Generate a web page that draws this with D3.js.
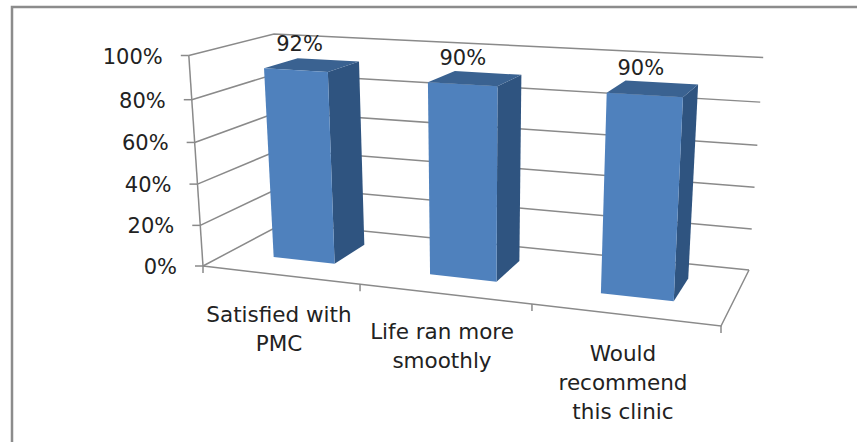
<!DOCTYPE html>
<meta charset="utf-8">
<style>
  html, body { margin: 0; padding: 0; background: #fff; }
  text { font-family: "DejaVu Sans", sans-serif; font-size: 21px; fill: #222; }
  .cat text { font-size: 21.5px; }
</style>
<script src="https://d3js.org/d3.v7.min.js"></script>
<div id="chart"></div>
<script>
  const categories = [["Satisfied with", "PMC"], ["Life ran more", "smoothly"], ["Would", "recommend", "this clinic"]];
  const values = [92, 90, 90];
  const valueLabels = ["92%", "90%", "90%"];
  const yTicks = [0, 20, 40, 60, 80, 100];

  const width = 857, height = 442;

  const svg = d3.select("#chart").append("svg")
    .attr("width", width)
    .attr("height", height)
    .style("display", "block");

  // chart frame, only top and left edges survive in the picture
  svg.append("path")
    .attr("d", d3.line()([[857, 7], [12, 7], [12, 442]]))
    .attr("fill", "none")
    .attr("stroke", "#8c8c8c")
    .attr("stroke-width", 2.5);

  // homography from unit square corners to a quad (a,b,c,d = 00,10,11,01)
  function quadMap(a, b, c, d) {
    const dx1 = b[0] - c[0], dx2 = d[0] - c[0], sx = a[0] - b[0] + c[0] - d[0];
    const dy1 = b[1] - c[1], dy2 = d[1] - c[1], sy = a[1] - b[1] + c[1] - d[1];
    const den = dx1 * dy2 - dx2 * dy1;
    const g = (sx * dy2 - dx2 * sy) / den;
    const h = (dx1 * sy - sx * dy1) / den;
    return function(u, v) {
      const w = g * u + h * v + 1;
      return [
        (b[0] - a[0] + g * b[0]) * u / w + (d[0] - a[0] + h * d[0]) * v / w + a[0] / w,
        (b[1] - a[1] + g * b[1]) * u / w + (d[1] - a[1] + h * d[1]) * v / w + a[1] / w
      ];
    };
  }

  // floor of the 3d box
  const floorMap = quadMap([203, 266], [721, 326], [749, 270], [284, 223]);

  const x = d3.scaleLinear().domain([0, categories.length]).range([0, 1]);
  // perspective squeezes the value axis a little
  const y = d3.scaleLinear().domain(yTicks).range([0, 0.193, 0.389, 0.587, 0.79, 1]);

  // verticals lean out from the middle and get taller toward the viewer
  function project(u, depth, val) {
    const f = floorMap(x(u), depth), k = y(val);
    const lean = (f[0] - 476) * 0.052;
    const tall = 189 + 0.5 * (f[1] - 223);
    return [f[0] + lean * k, f[1] - tall * k];
  }

  const line = d3.line();
  const n = categories.length;

  // walls
  const grid = svg.append("g")
    .attr("fill", "none")
    .attr("stroke", "#8a8a8a")
    .attr("stroke-width", 1.5);

  yTicks.forEach(function(t) {
    grid.append("path").attr("d", line([project(0, 0, t), project(0, 1, t), project(n, 1, t)]));
    const p = project(0, 0, t);
    grid.append("path").attr("d", line([[p[0] - 8, p[1]], p]));
  });
  grid.append("path").attr("d", line([project(0, 0, 0), project(0, 0, 100)]));
  grid.append("path").attr("d", line([project(0, 0, 0), project(n, 0, 0), project(n, 1, 0)]));
  d3.range(n + 1).forEach(function(i) {
    const p = project(i, 0, 0);
    grid.append("path").attr("d", line([p, [p[0], p[1] + 7]]));
  });

  // y labels
  svg.append("g").selectAll("text")
    .data(yTicks)
    .join("text")
    .attr("x", function(d) { return project(0, 0, d)[0] - 26; })
    .attr("y", function(d) { return project(0, 0, d)[1] + 8; })
    .attr("text-anchor", "end")
    .text(function(d) { return d + "%"; });

  // bars
  const bars = svg.append("g").selectAll("g")
    .data(values)
    .join("g");

  const u0 = 0.3, u1 = 0.7, v0 = 0.3, v1 = 0.72;

  function face(i, val, corners) {
    return line(corners.map(function(c) { return project(i + c[0], c[1], c[2] * val); })) + "Z";
  }

  bars.append("path")
    .attr("fill", "#2f5480")
    .attr("d", function(d, i) { return face(i, d, [[u1, v0, 1], [u1, v1, 1], [u1, v1, 0], [u1, v0, 0]]); });
  bars.append("path")
    .attr("fill", "#3a6291")
    .attr("d", function(d, i) { return face(i, d, [[u0, v0, 1], [u1, v0, 1], [u1, v1, 1], [u0, v1, 1]]); });
  bars.append("path")
    .attr("fill", "#4f81bd")
    .attr("d", function(d, i) { return face(i, d, [[u0, v0, 1], [u1, v0, 1], [u1, v0, 0], [u0, v0, 0]]); });

  // value labels
  svg.append("g").selectAll("text")
    .data(valueLabels)
    .join("text")
    .attr("text-anchor", "middle")
    .attr("x", function(d, i) { return project(i + 0.5, 0.5, values[i])[0] - 12; })
    .attr("y", function(d, i) { return project(i + 0.5, 0.5, values[i])[1] - 14; })
    .text(function(d) { return d; });

  // category labels
  const labelTop = [322, 339, 361];
  const labelX = [279, 442, 623];
  const labels = svg.append("g").attr("class", "cat").selectAll("text")
    .data(categories)
    .join("text")
    .attr("text-anchor", "middle")
    .attr("x", function(d, i) { return labelX[i]; })
    .attr("y", function(d, i) { return labelTop[i]; });
  labels.selectAll("tspan")
    .data(function(d) { return d; })
    .join("tspan")
    .attr("x", function() { return d3.select(this.parentNode).attr("x"); })
    .attr("dy", function(d, i) { return i ? 29 : 0; })
    .text(function(d) { return d; });
</script>
